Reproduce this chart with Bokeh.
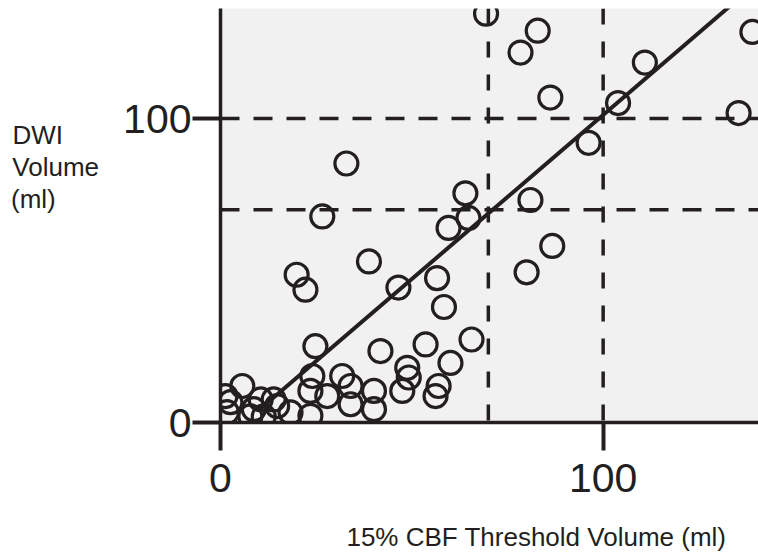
from bokeh.plotting import figure
from bokeh.models import Span, Range1d, FixedTicker
from bokeh.embed import file_html
from bokeh.resources import INLINE

# CBF threshold volume (ml) vs DWI volume (ml)
cbf_vol = [69.4, 78.4, 82.9, 86.2, 110.9, 103.9, 96.2, 139.0, 135.4, 32.9,
           26.6, 64.0, 59.6, 64.8, 81.0, 86.7, 80.0, 56.6, 46.5, 58.4,
           53.6, 65.6, 60.1, 48.8, 49.2, 47.5, 57.0, 56.2, 19.9, 22.2,
           38.8, 24.8, 41.8, 24.0, 31.8, 34.0, 27.9, 23.5, 40.1, 40.1,
           34.0, 23.5, 18.3, 5.7, 10.5, 13.9, 8.7, 2.6, 1.7, 11.3,
           7.8, 1.3, 14.8]
dwi_vol = [134.5, 121.7, 128.9, 106.9, 118.4, 105.1, 92.0, 128.5, 101.8, 85.2,
           67.8, 75.4, 64.0, 67.3, 73.2, 58.1, 49.4, 47.5, 44.4, 38.0,
           25.7, 27.3, 19.6, 18.0, 14.8, 10.4, 12.0, 8.7, 48.6, 43.7,
           53.0, 25.1, 23.5, 15.3, 15.3, 12.0, 8.7, 10.4, 10.4, 4.4,
           6.0, 2.2, 3.3, 12.0, 7.6, 7.6, 4.4, 6.7, 3.4, 2.0,
           2.0, 8.7, 5.4]

fit_x = [10.0, 141.0]
fit_slope = 1.08
fit_intercept = -6.8
fit_y = [fit_slope * v + fit_intercept for v in fit_x]

threshold_x = [70, 100]
threshold_y = [70, 100]
x_ticks = [0, 100]
y_ticks = [0, 100]

NB = "\u00a0"
# leading no-break spaces move the centred x label to the right, as in the original
x_label = NB * 13 + "15% CBF Threshold Volume (ml)"
# padded so the three lines read left-aligned and sit above the frame's middle
y_label = "DWI" + NB * 5 + "\nVolume\n(ml)" + NB * 6 + ("\n" + NB) * 3

INK = "#231f20"
FONT = "Liberation Sans"
TICK_FONT = "'Liberation Sans Narrow', 'Liberation Sans'"

p = figure(width=758, height=554, output_backend="svg", toolbar_location=None,
           x_range=Range1d(0, 140.6), y_range=Range1d(0, 136.2),
           min_border_left=220, min_border_right=0, min_border_top=8,
           min_border_bottom=131)
p.background_fill_color = "#f1f1f1"
p.border_fill_color = "white"
p.outline_line_color = None
p.grid.visible = False

for ax, ticks, tlen in ((p.xaxis[0], x_ticks, 28), (p.yaxis[0], y_ticks, 28)):
    ax.ticker = FixedTicker(ticks=ticks)
    ax.minor_tick_line_color = None
    ax.major_tick_in = 0
    ax.major_tick_out = tlen
    ax.axis_line_width = 3.5
    ax.axis_line_color = INK
    ax.major_tick_line_width = 4
    ax.major_tick_line_color = INK
    ax.major_label_text_font = TICK_FONT
    ax.major_label_text_font_size = "41px"
    ax.major_label_text_color = INK
    ax.axis_label_text_font = FONT
    ax.axis_label_text_font_style = "normal"
    ax.axis_label_text_font_size = "26px"
    ax.axis_label_text_color = INK
p.xaxis.major_label_standoff = 13
p.yaxis.major_label_standoff = 1

p.xaxis.axis_label = x_label
p.xaxis.axis_label_standoff = 27

p.yaxis.axis_label = y_label
p.yaxis.axis_label_orientation = "horizontal"
p.yaxis.axis_label_text_line_height = 1.08
p.yaxis.axis_label_standoff = 21

for xv in threshold_x:
    p.add_layout(Span(location=xv, dimension="height", line_color=INK,
                      line_width=3.5, line_dash="16 17"))
for yv in threshold_y:
    p.add_layout(Span(location=yv, dimension="width", line_color=INK,
                      line_width=3.5, line_dash="19 14"))

p.line(fit_x, fit_y, line_color=INK, line_width=4)
p.scatter(cbf_vol, dwi_vol, marker="circle", size=23, fill_color=None,
          line_color=INK, line_width=3.2)

open("out.html", "w").write(file_html(p, INLINE))
